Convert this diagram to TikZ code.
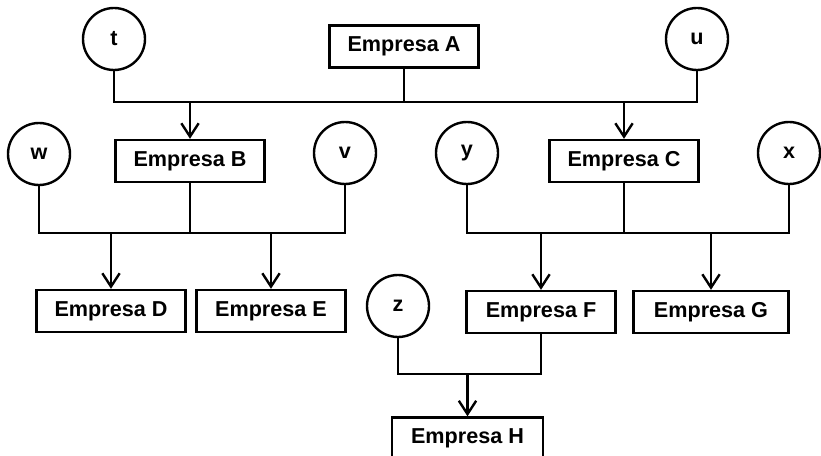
\documentclass[tikz,border=0pt]{standalone}
\usepackage{fontspec}
\setmainfont{Liberation Sans}
\usetikzlibrary{arrows.meta}

\tikzset{every picture/.style={line width=1.8pt}}
\tikzset{
  empresa/.style={draw, rectangle, minimum width=111.75pt, minimum height=31.5pt, inner sep=0.75pt, font=\fontsize{16.2}{19}\selectfont\bfseries},
  socio/.style={draw, circle, minimum size=46.5pt, inner sep=0.75pt, font=\fontsize{16.2}{19}\selectfont\bfseries},
  liga/.style={-{Straight Barb[length=10pt,width=13pt,line width=1.8pt]}}
}

\begin{document}
\begin{tikzpicture}[x=0.75pt,y=0.75pt,yscale=-1,xscale=1]
        \useasboundingbox (0,0) rectangle (821,456);

        %Shape: Circle
        \node [socio] (t) at (114,39) {t};
        \node [socio] (u) at (697,39) {u};
        \node [socio] (w) at (39,154) {w};
        \node [socio] (v) at (345,153) {v};
        \node [socio] (y) at (467,153) {y};
        \node [socio] (x) at (789,153) {x};
        \node [socio] (z) at (398,306) {z};

        %Shape: Rectangle
        \node [empresa] (A) at (404,46.5) {Empresa A};
        \node [empresa] (B) at (190,161) {Empresa B};
        \node [empresa] (C) at (624,161) {Empresa C};
        \node [empresa] (D) at (111,311) {Empresa D};
        \node [empresa] (E) at (271,311) {Empresa E};
        \node [empresa] (F) at (541,312) {Empresa F};
        \node [empresa, minimum width=116.25pt] (G) at (711,312) {Empresa G};
        \node [empresa, minimum width=113.25pt] (H) at (467.5,438.5) {Empresa H};

        %Straight Lines
        \coordinate (bus1) at (0,102);
        \coordinate (bus2) at (0,233);
        \coordinate (bus3) at (0,233);
        \coordinate (bus4) at (0,374);

        % t, A, u -> B, C
        \draw (t.south) -- (t.south |- bus1) -- (u.south |- bus1) -- (u.south);
        \draw (A.south) -- (A.south |- bus1);
        \draw [liga] (B.north |- bus1) -- (B.north);
        \draw [liga] (C.north |- bus1) -- (C.north);

        % w, B, v -> D, E
        \draw (w.south) -- (w.south |- bus2) -- (v.south |- bus2) -- (v.south);
        \draw (B.south) -- (B.south |- bus2);
        \draw [liga] (D.north |- bus2) -- (D.north);
        \draw [liga] (E.north |- bus2) -- (E.north);

        % y, C, x -> F, G
        \draw (y.south) -- (y.south |- bus3) -- (x.south |- bus3) -- (x.south);
        \draw (C.south) -- (C.south |- bus3);
        \draw [liga] (F.north |- bus3) -- (F.north);
        \draw [liga] (G.north |- bus3) -- (G.north);

        % z, F -> H
        \draw (z.south) -- (z.south |- bus4) -- (F.south |- bus4) -- (F.south);
        \draw [liga] (H.north |- bus4) -- (H.north);

\end{tikzpicture}
\end{document}
